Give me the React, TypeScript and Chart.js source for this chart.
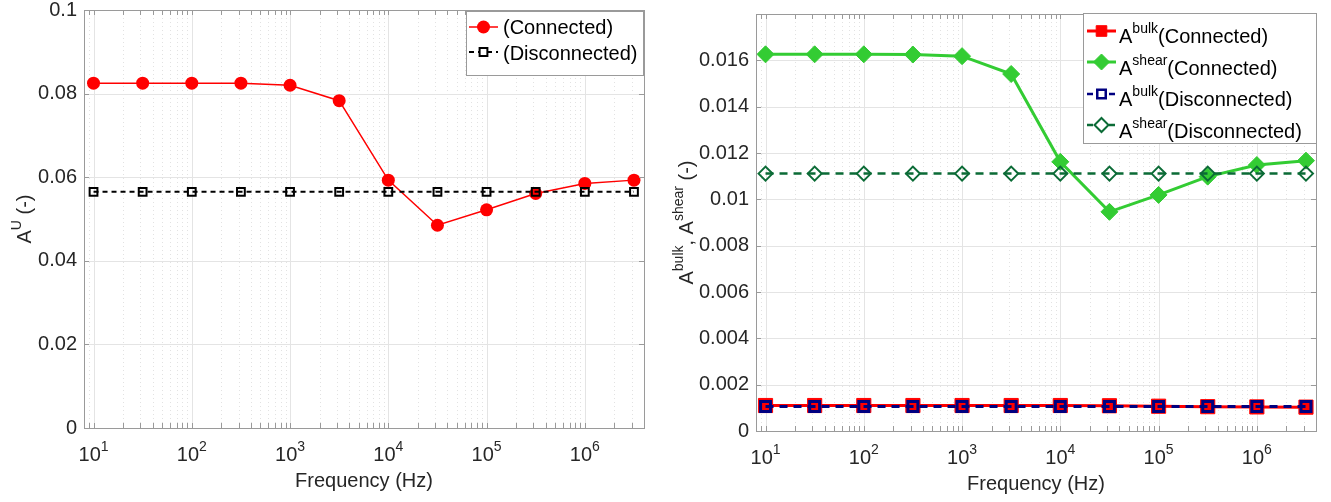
import React, { useEffect, useRef } from 'react';
import { Chart, registerables } from 'chart.js';

Chart.register(...registerables);

// ---------- data ----------
const frequencies = [10, 31.62, 100, 316.2, 1000, 3162, 10000, 31623, 100000, 316228, 1000000, 3162278];

const aUConnected = [0.0825, 0.0825, 0.0825, 0.0825, 0.082, 0.0783, 0.0593, 0.0485, 0.0522, 0.0561, 0.0585, 0.0593];
const aUDisconnected = [0.0565, 0.0565, 0.0565, 0.0565, 0.0565, 0.0565, 0.0565, 0.0565, 0.0565, 0.0565, 0.0565, 0.0565];

const aBulkConnected = [0.0011, 0.0011, 0.0011, 0.0011, 0.0011, 0.0011, 0.0011, 0.00109, 0.00107, 0.00105, 0.00104, 0.00103];
const aShearConnected = [0.01626, 0.01626, 0.01626, 0.01625, 0.01618, 0.01541, 0.01162, 0.00946, 0.01019, 0.01098, 0.01148, 0.01167];
const aBulkDisconnected = [0.00106, 0.00106, 0.00106, 0.00106, 0.00106, 0.00106, 0.00106, 0.00106, 0.00106, 0.00106, 0.00106, 0.00106];
const aShearDisconnected = [0.01111, 0.01111, 0.01111, 0.01111, 0.01111, 0.01111, 0.01111, 0.01111, 0.01111, 0.01111, 0.01111, 0.01111];

const xTickExponents = [1, 2, 3, 4, 5, 6];
const yTicksLeft = [0, 0.02, 0.04, 0.06, 0.08, 0.1];
const yTickLabelsLeft = ['0', '0.02', '0.04', '0.06', '0.08', '0.1'];
const yTicksRight = [0, 0.002, 0.004, 0.006, 0.008, 0.01, 0.012, 0.014, 0.016];
const yTickLabelsRight = ['0', '0.002', '0.004', '0.006', '0.008', '0.01', '0.012', '0.014', '0.016'];

// ---------- styling helpers ----------
const FONT = '"Liberation Sans", Arial, Helvetica, sans-serif';
const TEXT_COLOR = '#262626';
const AXIS_COLOR = '#9a9a9a';
const GRID_MAJOR = '#e4e4e4';
const GRID_MINOR = '#e2e2e2';
const BASE = 20;
const SUP = 14;
const RAISE = 10;

type Part = { t: string; sup?: boolean };
const fnt = (s: number) => `${s}px ${FONT}`;

function measureParts(ctx: CanvasRenderingContext2D, parts: Part[]) {
  let w = 0;
  for (const p of parts) {
    ctx.font = fnt(p.sup ? SUP : BASE);
    w += ctx.measureText(p.t).width;
  }
  return w;
}
function drawParts(ctx: CanvasRenderingContext2D, parts: Part[], x: number, y: number) {
  let cx = x;
  ctx.textAlign = 'left';
  ctx.textBaseline = 'alphabetic';
  for (const p of parts) {
    ctx.font = fnt(p.sup ? SUP : BASE);
    ctx.fillText(p.t, cx, p.sup ? y - RAISE : y);
    cx += ctx.measureText(p.t).width;
  }
}

type Marker = 'circle' | 'rect' | 'diamond';
function drawMarker(ctx: CanvasRenderingContext2D, m: Marker, x: number, y: number, r: number, fill: string | null, stroke: string, bw: number) {
  ctx.beginPath();
  if (m === 'circle') ctx.arc(x, y, r, 0, Math.PI * 2);
  else if (m === 'rect') {
    const s = r * Math.SQRT1_2;
    ctx.rect(x - s, y - s, 2 * s, 2 * s);
  } else {
    ctx.moveTo(x, y - r);
    ctx.lineTo(x + r, y);
    ctx.lineTo(x, y + r);
    ctx.lineTo(x - r, y);
    ctx.closePath();
  }
  if (fill) {
    ctx.fillStyle = fill;
    ctx.fill();
  }
  if (bw > 0) {
    ctx.setLineDash([]);
    ctx.lineWidth = bw;
    ctx.strokeStyle = stroke;
    ctx.stroke();
  }
}

type LegendItem = {
  parts: Part[];
  color: string;
  lineWidth: number;
  dash: number[];
  marker: Marker;
  r: number;
  fill: string | null;
  bw: number;
};
type Decor = {
  xMin: number;
  xMax: number;
  yTicks: number[];
  yTitle: Part[];
  yTitleX: number;
  tickLen: number;
  legendBox: [number, number, number, number];
  legendLine: [number, number];
  legendTextX: number;
  legendMarkerY: number[];
  legendBaseline: number[];
  legendItems: LegendItem[];
};

function makeDecor(d: Decor) {
  const gridVals: number[] = [];
  for (let e = 0; e <= 7; e++) {
    for (let s = 1; s <= 9; s++) {
      const v = s * Math.pow(10, e);
      if (v >= d.xMin && v <= d.xMax) gridVals.push(v);
    }
  }
  return {
    id: 'matlabDecor',
    beforeDatasetsDraw(chart: any) {
      const { ctx, chartArea: a, scales } = chart;
      const xs = scales.x;
      const ys = scales.y;
      ctx.save();
      ctx.lineWidth = 1;
      // minor x grid (dotted)
      ctx.strokeStyle = GRID_MINOR;
      ctx.setLineDash([1, 3]);
      for (const v of gridVals) {
        const lg = Math.log10(v);
        if (Math.abs(lg - Math.round(lg)) < 1e-9) continue;
        const px = Math.round(xs.getPixelForValue(v)) + 0.5;
        ctx.beginPath();
        ctx.moveTo(px, a.top);
        ctx.lineTo(px, a.bottom);
        ctx.stroke();
      }
      // major grid
      ctx.setLineDash([]);
      ctx.strokeStyle = GRID_MAJOR;
      for (const e of xTickExponents) {
        const px = Math.round(xs.getPixelForValue(Math.pow(10, e))) + 0.5;
        ctx.beginPath();
        ctx.moveTo(px, a.top);
        ctx.lineTo(px, a.bottom);
        ctx.stroke();
      }
      for (const v of d.yTicks) {
        const py = Math.round(ys.getPixelForValue(v)) + 0.5;
        ctx.beginPath();
        ctx.moveTo(a.left, py);
        ctx.lineTo(a.right, py);
        ctx.stroke();
      }
      ctx.restore();
    },
    afterDatasetsDraw(chart: any) {
      const { ctx, chartArea: a, scales } = chart;
      const xs = scales.x;
      const ys = scales.y;
      ctx.save();
      // box
      ctx.setLineDash([]);
      ctx.strokeStyle = AXIS_COLOR;
      ctx.lineWidth = 1;
      ctx.strokeRect(Math.round(a.left) + 0.5, Math.round(a.top) + 0.5, Math.round(a.right - a.left), Math.round(a.bottom - a.top));
      // x tick marks
      for (const v of gridVals) {
        const px = Math.round(xs.getPixelForValue(v)) + 0.5;
        ctx.beginPath();
        ctx.moveTo(px, a.bottom);
        ctx.lineTo(px, a.bottom - d.tickLen);
        ctx.moveTo(px, a.top);
        ctx.lineTo(px, a.top + d.tickLen);
        ctx.stroke();
      }
      // y tick marks
      for (const v of d.yTicks) {
        const py = Math.round(ys.getPixelForValue(v)) + 0.5;
        ctx.beginPath();
        ctx.moveTo(a.left, py);
        ctx.lineTo(a.left + d.tickLen, py);
        ctx.moveTo(a.right, py);
        ctx.lineTo(a.right - d.tickLen, py);
        ctx.stroke();
      }
      // x tick labels
      ctx.fillStyle = TEXT_COLOR;
      for (const e of xTickExponents) {
        const px = xs.getPixelForValue(Math.pow(10, e));
        const parts: Part[] = [{ t: '10' }, { t: String(e), sup: true }];
        const w = measureParts(ctx, parts);
        drawParts(ctx, parts, px - w / 2, a.bottom + 33);
      }
      // x title
      ctx.font = fnt(BASE);
      ctx.textAlign = 'center';
      ctx.textBaseline = 'alphabetic';
      ctx.fillText('Frequency (Hz)', (a.left + a.right) / 2, a.bottom + 59);
      // y title
      ctx.save();
      ctx.translate(d.yTitleX, (a.top + a.bottom) / 2);
      ctx.rotate(-Math.PI / 2);
      const tw = measureParts(ctx, d.yTitle);
      drawParts(ctx, d.yTitle, -tw / 2, 0);
      ctx.restore();
      // legend
      const [bx1, by1, bx2, by2] = d.legendBox;
      ctx.fillStyle = '#ffffff';
      ctx.fillRect(bx1, by1, bx2 - bx1, by2 - by1);
      ctx.strokeStyle = AXIS_COLOR;
      ctx.lineWidth = 1;
      ctx.setLineDash([]);
      ctx.strokeRect(bx1 + 0.5, by1 + 0.5, bx2 - bx1, by2 - by1);
      d.legendItems.forEach((it, i) => {
        const my = d.legendMarkerY[i];
        ctx.strokeStyle = it.color;
        ctx.lineWidth = it.lineWidth;
        ctx.setLineDash(it.dash);
        ctx.beginPath();
        ctx.moveTo(d.legendLine[0], my);
        ctx.lineTo(d.legendLine[1], my);
        ctx.stroke();
        drawMarker(ctx, it.marker, (d.legendLine[0] + d.legendLine[1]) / 2, my, it.r, it.fill, it.color, it.bw);
        ctx.fillStyle = '#000000';
        drawParts(ctx, it.parts, d.legendTextX, d.legendBaseline[i]);
      });
      ctx.restore();
    },
  };
}

function pts(values: number[]) {
  return frequencies.map((f, i) => ({ x: f, y: values[i] }));
}

function baseOptions(yMax: number, yTicks: number[], yLabels: string[], yWidth: number, xHeight: number, pad: any) {
  return {
    responsive: false,
    animation: false as const,
    events: [] as any[],
    layout: { padding: pad },
    plugins: { legend: { display: false }, tooltip: { enabled: false }, title: { display: false } },
    scales: {
      x: {
        type: 'logarithmic' as const,
        min: 8,
        max: 4e6,
        grid: { display: false, drawTicks: false },
        border: { display: false },
        ticks: { display: false },
        afterFit: (s: any) => {
          s.height = xHeight;
          s.paddingLeft = 0;
          s.paddingRight = 0;
        },
      },
      y: {
        type: 'linear' as const,
        min: 0,
        max: yMax,
        grid: { display: false, drawTicks: false },
        border: { display: false },
        afterBuildTicks: (s: any) => {
          s.ticks = yTicks.map((v) => ({ value: v }));
        },
        ticks: {
          padding: 7,
          color: TEXT_COLOR,
          font: { family: FONT, size: BASE },
          callback: (_v: any, i: number) => yLabels[i],
        },
        afterFit: (s: any) => {
          s.width = yWidth;
          s.paddingTop = 0;
          s.paddingBottom = 0;
        },
      },
    },
  };
}

function leftConfig(): any {
  const decor = makeDecor({
    xMin: 8,
    xMax: 4e6,
    yTicks: yTicksLeft,
    yTitle: [{ t: 'A' }, { t: 'U', sup: true }, { t: ' (-)' }],
    yTitleX: 31,
    tickLen: 5,
    legendBox: [466, 11, 643, 75],
    legendLine: [469, 498],
    legendTextX: 503,
    legendMarkerY: [27, 52],
    legendBaseline: [34, 59.5],
    legendItems: [
      { parts: [{ t: '(Connected)' }], color: '#ff0000', lineWidth: 1.5, dash: [], marker: 'circle', r: 6.5, fill: '#ff0000', bw: 0 },
      { parts: [{ t: '(Disconnected)' }], color: '#000000', lineWidth: 2, dash: [5, 4], marker: 'rect', r: 5.5, fill: '#ffffff', bw: 2 },
    ],
  });
  return {
    type: 'line',
    data: {
      datasets: [
        {
          label: '(Connected)',
          data: pts(aUConnected),
          borderColor: '#ff0000',
          backgroundColor: '#ff0000',
          borderWidth: 1.5,
          pointStyle: 'circle',
          pointRadius: 6.5,
          pointBorderWidth: 0,
          pointBackgroundColor: '#ff0000',
          order: 2,
        },
        {
          label: '(Disconnected)',
          data: pts(aUDisconnected),
          borderColor: '#000000',
          borderWidth: 2,
          borderDash: [5, 4],
          pointStyle: 'rect',
          pointRadius: 5.5,
          pointBorderWidth: 2,
          pointBorderColor: '#000000',
          pointBackgroundColor: 'rgba(0,0,0,0)',
          order: 1,
        },
      ],
    },
    options: baseOptions(0.1, yTicksLeft, yTickLabelsLeft, 84, 74, { left: 0, top: 10, right: 21, bottom: 0 }),
    plugins: [decor],
  };
}

const RED = '#ff0000';
const GREEN = '#33cc33';
const NAVY = '#000080';
const DKGREEN = '#0b6b36';

function rightConfig(): any {
  const decor = makeDecor({
    xMin: 8,
    xMax: 4e6,
    yTicks: yTicksRight,
    yTitle: [{ t: 'A' }, { t: 'bulk', sup: true }, { t: ', A' }, { t: 'shear', sup: true }, { t: ' (-)' }],
    yTitleX: 28,
    tickLen: 5,
    legendBox: [418, 13, 651, 143],
    legendLine: [422, 451],
    legendTextX: 454,
    legendMarkerY: [31, 62, 94, 125],
    legendBaseline: [43, 74.5, 106, 137.5],
    legendItems: [
      { parts: [{ t: 'A' }, { t: 'bulk', sup: true }, { t: '(Connected)' }], color: RED, lineWidth: 3, dash: [], marker: 'rect', r: 7.5, fill: RED, bw: 1 },
      { parts: [{ t: 'A' }, { t: 'shear', sup: true }, { t: '(Connected)' }], color: GREEN, lineWidth: 3, dash: [], marker: 'diamond', r: 8, fill: GREEN, bw: 1 },
      { parts: [{ t: 'A' }, { t: 'bulk', sup: true }, { t: '(Disconnected)' }], color: NAVY, lineWidth: 2.5, dash: [6, 5], marker: 'rect', r: 6, fill: '#ffffff', bw: 2.5 },
      { parts: [{ t: 'A' }, { t: 'shear', sup: true }, { t: '(Disconnected)' }], color: DKGREEN, lineWidth: 2.5, dash: [6, 5], marker: 'diamond', r: 7, fill: '#ffffff', bw: 2 },
    ],
  });
  return {
    type: 'line',
    data: {
      datasets: [
        {
          label: 'A bulk (Connected)',
          data: pts(aBulkConnected),
          borderColor: RED,
          borderWidth: 3,
          pointStyle: 'rect',
          pointRadius: 10,
          pointBorderWidth: 1,
          pointBorderColor: RED,
          pointBackgroundColor: RED,
          order: 4,
        },
        {
          label: 'A shear (Connected)',
          data: pts(aShearConnected),
          borderColor: GREEN,
          borderWidth: 3,
          pointStyle: 'rectRot',
          pointRadius: 8.5,
          pointBorderWidth: 1,
          pointBorderColor: GREEN,
          pointBackgroundColor: GREEN,
          order: 3,
        },
        {
          label: 'A bulk (Disconnected)',
          data: pts(aBulkDisconnected),
          borderColor: NAVY,
          borderWidth: 3,
          borderDash: [8, 6],
          pointStyle: 'rect',
          pointRadius: 7,
          pointBorderWidth: 3,
          pointBorderColor: NAVY,
          pointBackgroundColor: 'rgba(0,0,0,0)',
          order: 2,
        },
        {
          label: 'A shear (Disconnected)',
          data: pts(aShearDisconnected),
          borderColor: DKGREEN,
          borderWidth: 2.5,
          borderDash: [8, 6],
          pointStyle: 'rectRot',
          pointRadius: 7,
          pointBorderWidth: 2,
          pointBorderColor: DKGREEN,
          pointBackgroundColor: 'rgba(0,0,0,0)',
          order: 1,
        },
      ],
    },
    options: baseOptions(0.018, yTicksRight, yTickLabelsRight, 91, 71, { left: 0, top: 14, right: 15, bottom: 0 }),
    plugins: [decor],
  };
}

export default function App() {
  const leftRef = useRef<HTMLCanvasElement>(null);
  const rightRef = useRef<HTMLCanvasElement>(null);
  useEffect(() => {
    const c1 = new Chart(leftRef.current as HTMLCanvasElement, leftConfig());
    const c2 = new Chart(rightRef.current as HTMLCanvasElement, rightConfig());
    return () => {
      c1.destroy();
      c2.destroy();
    };
  }, []);
  return (
    <div style={{ position: 'absolute', left: 0, top: 0, width: 1331, height: 502, background: '#ffffff', overflow: 'hidden' }}>
      <canvas ref={leftRef} width={665} height={502} style={{ position: 'absolute', left: 0, top: 0, width: 665, height: 502 }} />
      <canvas ref={rightRef} width={666} height={502} style={{ position: 'absolute', left: 665, top: 0, width: 666, height: 502 }} />
    </div>
  );
}
